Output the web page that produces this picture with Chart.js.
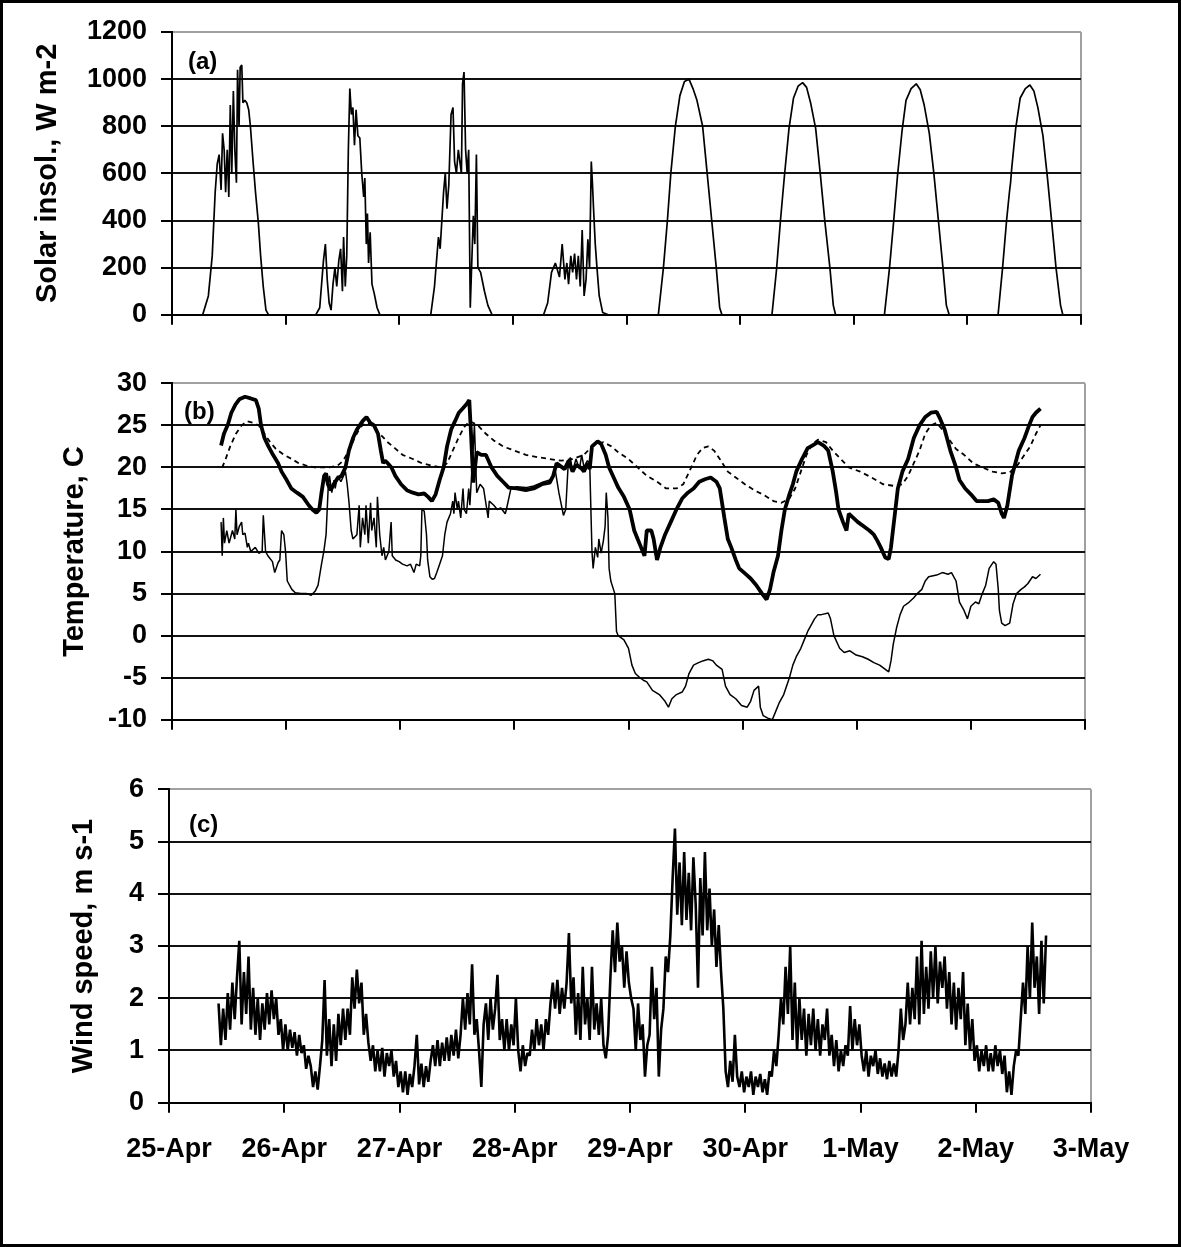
<!DOCTYPE html>
<html>
<head>
<meta charset="utf-8">
<script src="https://cdn.jsdelivr.net/npm/chart.js@4.4.1/dist/chart.umd.min.js"></script>
<style>
html,body{margin:0;padding:0;background:#fff;}
#page{position:relative;width:1181px;height:1247px;overflow:hidden;background:#fff;}
#frame{position:absolute;left:0;top:0;width:1181px;height:1247px;box-sizing:border-box;border:3px solid #000;pointer-events:none;z-index:5;}
canvas{position:absolute;left:0;}
</style>
</head>
<body>
<div id="page">
  <canvas id="c-solar" width="1181" height="345" style="top:0px"></canvas>
  <canvas id="c-temp" width="1181" height="405" style="top:345px"></canvas>
  <canvas id="c-wind" width="1181" height="497" style="top:750px"></canvas>
  <div id="frame"></div>
</div>
<script>
/* ===== DATA (x = days since 25-Apr 00:00) ===== */
const DAY_LABELS=['25-Apr','26-Apr','27-Apr','28-Apr','29-Apr','30-Apr','1-May','2-May','3-May'];

// (a) solar insolation, W m-2
const SOLAR=[
  [0.25,0],[0.27,0],[0.32,80],[0.354,250],[0.38,520],[0.398,640],[0.415,680],[0.432,530],[0.445,770],[0.459,700],
  [0.472,520],[0.486,700],[0.50,500],[0.513,890],[0.526,600],[0.54,950],[0.553,700],[0.567,560],[0.577,1040],[0.59,800],
  [0.60,1050],[0.614,1060],[0.624,900],[0.641,910],[0.658,900],[0.675,870],[0.69,800],[0.715,640],[0.735,520],[0.76,390],
  [0.78,250],[0.803,120],[0.827,20],[0.85,0],
  [1.265,0],[1.30,30],[1.333,230],[1.35,300],[1.366,150],[1.383,50],[1.40,20],[1.417,130],[1.434,200],[1.45,120],
  [1.468,230],[1.484,280],[1.50,100],[1.51,330],[1.525,120],[1.538,250],[1.552,700],[1.565,960],[1.579,850],[1.592,880],
  [1.606,720],[1.62,870],[1.636,760],[1.653,750],[1.67,600],[1.687,500],[1.697,580],[1.71,300],[1.72,430],[1.73,220],
  [1.744,350],[1.76,130],[1.78,90],[1.805,30],[1.83,0],
  [2.277,0],[2.31,120],[2.345,330],[2.36,280],[2.39,520],[2.405,600],[2.42,450],[2.436,550],[2.456,850],[2.473,880],
  [2.487,650],[2.503,600],[2.52,700],[2.547,600],[2.557,980],[2.57,1030],[2.584,700],[2.598,600],[2.611,700],[2.625,30],
  [2.638,220],[2.652,420],[2.665,300],[2.679,680],[2.692,200],[2.716,180],[2.75,100],[2.78,40],[2.817,0],
  [3.27,0],[3.306,50],[3.34,180],[3.374,220],[3.41,160],[3.434,300],[3.458,150],[3.475,220],[3.49,130],[3.51,250],
  [3.526,180],[3.543,260],[3.56,150],[3.576,250],[3.593,120],[3.61,360],[3.627,80],[3.644,150],[3.66,320],[3.675,200],
  [3.69,650],[3.70,560],[3.71,450],[3.725,300],[3.74,200],[3.76,80],[3.79,10],[3.84,0],
  [4.28,0],[4.325,200],[4.36,400],[4.39,600],[4.43,800],[4.47,930],[4.51,990],[4.55,1000],[4.585,960],[4.62,910],
  [4.67,800],[4.71,600],[4.75,400],[4.79,200],[4.82,30],[4.84,0],
  [5.28,0],[5.32,190],[5.355,400],[5.39,590],[5.43,790],[5.47,920],[5.51,970],[5.55,985],[5.585,965],[5.62,900],
  [5.665,790],[5.705,600],[5.745,400],[5.79,200],[5.82,40],[5.84,0],
  [6.27,0],[6.315,200],[6.35,390],[6.385,590],[6.425,780],[6.46,910],[6.505,960],[6.55,980],[6.585,955],[6.62,890],
  [6.665,770],[6.705,600],[6.745,400],[6.785,200],[6.815,40],[6.84,0],
  [7.27,0],[7.31,200],[7.345,400],[7.37,520],[7.38,560],[7.39,620],[7.425,790],[7.465,920],[7.51,960],[7.55,975],
  [7.585,950],[7.62,880],[7.665,760],[7.705,580],[7.745,380],[7.78,200],[7.82,40],[7.84,0],[7.9,0]
];

// (b) temperatures, C : thick solid line
const TEMP_THICK=[
  [0.43,22.6],[0.455,24],[0.49,25.1],[0.52,26.5],[0.557,27.5],[0.59,28.1],[0.64,28.4],[0.69,28.2],[0.735,28],[0.76,27],
  [0.78,25],[0.81,23.5],[0.845,22.5],[0.885,21.5],[0.93,20.5],[0.96,19.5],[1.005,18.5],[1.045,17.5],[1.095,17],[1.147,16.5],
  [1.198,15.5],[1.23,15],[1.265,14.6],[1.29,15],[1.31,17],[1.333,19],[1.35,19.3],[1.366,18],[1.39,17.3],[1.417,18],
  [1.45,18.7],[1.485,19],[1.52,20],[1.55,22],[1.586,23.5],[1.62,24.5],[1.67,25.5],[1.704,26],[1.737,25.3],[1.77,25],
  [1.805,24],[1.83,22],[1.85,20.5],[1.866,20.8],[1.89,20.5],[1.923,20],[1.957,19],[2.007,18],[2.058,17.3],[2.11,17],
  [2.16,16.8],[2.21,16.9],[2.244,16.5],[2.277,16],[2.31,16.8],[2.345,18.5],[2.38,20],[2.41,22.5],[2.446,24.5],[2.48,25.5],
  [2.513,26.5],[2.547,27],[2.58,27.5],[2.605,28],[2.62,24],[2.64,18.2],[2.67,21.8],[2.71,21.5],[2.75,21.5],[2.8,20],
  [2.85,19],[2.9,18.3],[2.95,17.6],[3.02,17.5],[3.1,17.3],[3.17,17.5],[3.24,18],[3.31,18.2],[3.34,19],[3.37,20.5],
  [3.44,19.8],[3.475,20.8],[3.51,19.5],[3.54,20.3],[3.58,20],[3.61,19.5],[3.64,20.5],[3.66,19.8],[3.68,22.5],[3.73,23.1],
  [3.76,22.8],[3.80,21.5],[3.83,20],[3.88,18.5],[3.91,17.6],[3.96,16.5],[4.01,15],[4.05,12.5],[4.08,11.5],[4.11,10.5],
  [4.14,9.5],[4.16,12.5],[4.20,12.5],[4.22,11.5],[4.25,9],[4.28,10.5],[4.32,12],[4.37,13.5],[4.42,15],[4.47,16.3],
  [4.52,17],[4.57,17.5],[4.62,18.3],[4.67,18.6],[4.72,18.8],[4.77,18.3],[4.80,17.5],[4.84,14],[4.87,11.5],[4.90,10.5],
  [4.94,9],[4.97,8],[5.02,7.4],[5.07,6.8],[5.12,6],[5.17,5],[5.21,4.3],[5.24,5.5],[5.27,7.5],[5.31,9.5],
  [5.34,12.5],[5.37,15],[5.41,16.8],[5.44,18],[5.47,19.5],[5.52,21],[5.57,22.3],[5.61,22.6],[5.66,23],[5.71,22.6],
  [5.75,22],[5.79,19.5],[5.82,17],[5.84,15],[5.88,13.5],[5.91,12.5],[5.93,14.5],[5.97,14],[6.01,13.5],[6.06,13],
  [6.11,12.5],[6.15,12],[6.18,11.3],[6.21,10.5],[6.25,9.3],[6.28,9.1],[6.30,10.5],[6.33,14],[6.36,17.5],[6.40,19.5],
  [6.45,21],[6.50,23.5],[6.55,25],[6.60,26],[6.65,26.5],[6.70,26.6],[6.73,25.8],[6.77,24.5],[6.82,22],[6.87,20],
  [6.90,18.5],[6.95,17.5],[7.00,16.8],[7.05,16],[7.10,16],[7.15,16],[7.20,16.2],[7.24,15.8],[7.27,14.5],[7.29,14],
  [7.32,15.5],[7.36,19],[7.39,20.5],[7.42,22],[7.47,23.5],[7.51,25],[7.54,26],[7.57,26.5],[7.61,27]
];

// (b) dashed line
const TEMP_DASHED=[
  [0.44,20],[0.47,21],[0.51,22.5],[0.56,24],[0.61,25],[0.66,25.5],[0.71,25.3],[0.76,25],[0.81,24],[0.86,23],
  [0.91,22.2],[0.98,21.5],[1.05,21],[1.11,20.5],[1.18,20.2],[1.25,20],[1.32,20],[1.38,20],[1.45,20.2],[1.50,20.8],
  [1.55,22],[1.60,23.5],[1.65,24.8],[1.70,25.3],[1.75,25],[1.82,24],[1.89,23],[1.96,22.2],[2.02,21.5],[2.11,21],
  [2.19,20.5],[2.28,20.2],[2.36,20],[2.41,20.5],[2.46,22],[2.51,23.5],[2.56,24.8],[2.61,25.5],[2.68,25],[2.75,24],
  [2.82,23.2],[2.90,22.5],[3.00,22],[3.10,21.5],[3.21,21.2],[3.31,21],[3.41,20.8],[3.51,21],[3.61,21.5],[3.68,22.5],
  [3.78,23],[3.85,22.5],[3.91,21.8],[4.00,21],[4.08,20],[4.16,19],[4.25,18.3],[4.33,17.5],[4.42,17.5],[4.48,18],
  [4.55,20],[4.60,21.5],[4.65,22.3],[4.70,22.5],[4.75,22],[4.80,21],[4.87,19.5],[4.94,18.8],[5.02,18],[5.10,17.3],
  [5.19,16.7],[5.27,16],[5.34,15.8],[5.41,16.3],[5.46,17.5],[5.51,19.5],[5.56,21.5],[5.61,22.8],[5.66,23.3],[5.73,23],
  [5.79,22],[5.86,21],[5.93,20],[6.03,19.5],[6.13,18.8],[6.23,18],[6.33,17.8],[6.40,18],[6.45,19],[6.50,20.5],
  [6.55,22],[6.60,24],[6.65,25],[6.70,25.3],[6.75,24.5],[6.80,23.5],[6.87,22.2],[6.94,21.5],[7.02,20.5],[7.10,20],
  [7.19,19.5],[7.27,19.3],[7.34,19.4],[7.41,20.3],[7.47,21.5],[7.52,22.5],[7.57,24],[7.61,25]
];

// (b) thin solid line
const TEMP_THIN=[
  [0.43,13.5],[0.44,9.5],[0.45,14],[0.46,11],[0.48,12.5],[0.50,11],[0.51,11.5],[0.53,12.5],[0.55,11.5],[0.56,15],
  [0.57,12],[0.59,13],[0.61,13.5],[0.62,12],[0.64,12.2],[0.66,10.5],[0.67,11],[0.69,10],[0.73,10.5],[0.76,9.8],
  [0.79,10],[0.80,14.3],[0.82,10],[0.84,9.5],[0.88,8.8],[0.90,7.5],[0.93,8.7],[0.945,9],[0.96,12.5],[0.98,12],
  [0.995,10],[1.01,6.5],[1.05,5.5],[1.08,5.1],[1.13,5],[1.18,5],[1.22,4.8],[1.255,5.3],[1.28,6],[1.31,8.5],
  [1.33,10],[1.35,12],[1.37,18],[1.38,19],[1.40,17],[1.42,18.5],[1.43,17.5],[1.45,19],[1.48,18.3],[1.52,19.5],
  [1.535,18],[1.55,16],[1.57,12.5],[1.585,11.5],[1.62,12],[1.64,15.5],[1.65,10.5],[1.67,14],[1.69,12],[1.70,15.5],
  [1.72,11],[1.74,15.8],[1.75,12.5],[1.77,14],[1.79,10.5],[1.80,16.5],[1.82,12],[1.84,9.5],[1.855,10.5],[1.87,9],
  [1.90,10],[1.92,13.5],[1.93,9.5],[1.96,9],[1.99,8.8],[2.02,8.5],[2.06,8.3],[2.09,8.5],[2.12,7.5],[2.14,8.5],
  [2.17,8.3],[2.18,9.5],[2.19,15],[2.21,14.8],[2.23,12],[2.24,9],[2.26,7],[2.28,6.7],[2.30,6.8],[2.32,7.5],
  [2.345,8.5],[2.37,9.5],[2.39,12],[2.41,13.5],[2.44,14.5],[2.46,16],[2.47,14.5],[2.48,17],[2.50,15],[2.51,16],
  [2.53,14],[2.55,17.5],[2.56,15],[2.58,14.5],[2.60,17.5],[2.61,15.5],[2.65,25],[2.67,17],[2.70,18],[2.73,17.5],
  [2.77,14],[2.78,16],[2.82,15.5],[2.85,15],[2.88,15.2],[2.92,14.5],[2.93,15],[2.97,17.5],[3.02,17.7],[3.10,17.6],
  [3.17,17.8],[3.24,18.2],[3.31,18.5],[3.36,19.5],[3.39,17],[3.43,14.3],[3.45,15],[3.47,20],[3.49,21.2],[3.51,19.5],
  [3.54,21],[3.57,19.8],[3.59,21.5],[3.61,20],[3.64,20.8],[3.66,20.5],[3.68,10],[3.69,8],[3.71,10.5],[3.73,9.3],
  [3.74,11.5],[3.76,9.8],[3.78,11.3],[3.795,13],[3.805,17],[3.82,14],[3.83,8],[3.845,6.5],[3.88,5],[3.895,0.5],
  [3.91,0],[3.96,-0.5],[4.00,-1.5],[4.03,-3.5],[4.06,-4.5],[4.10,-5],[4.13,-5.3],[4.16,-5.5],[4.21,-6.5],[4.27,-7],
  [4.32,-7.8],[4.35,-8.5],[4.38,-7.5],[4.42,-7],[4.47,-6.7],[4.50,-6],[4.53,-4.5],[4.57,-3.5],[4.60,-3.3],[4.65,-3],
  [4.70,-2.8],[4.74,-3],[4.77,-3.5],[4.82,-4],[4.85,-6],[4.89,-7],[4.94,-7.5],[4.99,-8.3],[5.04,-8.5],[5.07,-7.8],
  [5.10,-6.5],[5.14,-6],[5.155,-8.5],[5.18,-9.5],[5.22,-9.8],[5.26,-10],[5.29,-9],[5.32,-8],[5.36,-7],[5.41,-5],
  [5.44,-3.5],[5.47,-2.5],[5.51,-1.5],[5.54,-0.5],[5.57,0.5],[5.61,1.5],[5.63,2],[5.66,2.5],[5.69,2.5],[5.75,2.7],
  [5.77,2],[5.80,0],[5.85,-1.5],[5.89,-2],[5.94,-1.8],[5.995,-2.3],[6.05,-2.5],[6.10,-2.8],[6.15,-3.2],[6.20,-3.5],
  [6.23,-3.8],[6.28,-4.3],[6.30,-3],[6.32,-1],[6.35,1],[6.38,2.5],[6.41,3.5],[6.46,4],[6.50,4.5],[6.53,5],
  [6.57,5.5],[6.60,6.5],[6.63,7],[6.70,7.2],[6.75,7.5],[6.80,7.3],[6.83,7.5],[6.87,6.5],[6.90,4],[6.94,3],
  [6.97,2],[7.00,3.5],[7.04,4],[7.07,3.8],[7.10,5],[7.13,6],[7.16,8],[7.20,8.8],[7.22,8.5],[7.24,5.5],
  [7.25,3],[7.27,1.5],[7.30,1.2],[7.34,1.5],[7.37,3.8],[7.40,5],[7.44,5.5],[7.47,5.8],[7.50,6.2],[7.54,7],
  [7.57,6.8],[7.61,7.3]
];

// (c) wind speed, m s-1, one reading every 0.02 day from 0.43 (5 readings per group)
const WIND_START=0.43;
const WIND_STEP=0.02;
const WIND_SPEED=[
  1.9,1.1,1.8,1.2,2.1,  1.4,2.3,1.6,2.4,3.1,  1.5,2.5,1.7,2.8,1.4,  2.2,1.3,2.0,1.2,1.9,
  1.4,2.1,1.5,2.15,1.6, 2.0,1.3,1.6,1.0,1.5,  1.0,1.4,1.05,1.35,0.9, 1.3,0.95,1.1,0.65,0.9,
  0.7,0.3,0.6,0.25,0.7, 1.2,2.35,0.9,1.6,0.7, 1.5,0.8,1.7,1.1,1.8,  1.2,1.8,1.3,2.4,1.8,
  2.55,1.9,2.3,1.3,1.7, 1.15,0.8,1.1,0.6,1.0, 0.6,1.05,0.5,0.95,0.7, 1.0,0.5,0.8,0.3,0.6,
  0.2,0.6,0.15,0.55,0.3, 0.7,1.3,0.35,0.75,0.3, 0.7,0.4,0.8,1.1,0.7, 1.2,0.7,1.15,0.8,1.25,
  0.8,1.3,0.9,1.4,0.85, 1.3,2.0,1.4,2.1,1.5,  2.65,1.3,1.6,1.0,0.3, 1.5,1.9,1.2,2.0,1.4,
  1.8,2.45,1.2,1.6,1.0, 1.6,1.0,1.5,1.1,2.0,  1.0,0.6,1.1,0.7,0.95, 0.9,1.4,1.0,1.6,1.1,
  1.5,1.0,1.6,1.3,1.9,  2.3,1.8,2.35,1.7,2.2, 1.8,2.3,3.25,1.9,2.4, 1.3,2.1,1.2,2.6,1.5,
  2.0,1.2,2.6,1.4,1.9,  1.3,2.0,1.1,0.85,1.3, 2.4,3.3,2.5,3.45,2.7, 3.0,2.2,2.9,2.3,2.0,
  1.8,1.0,1.9,1.2,1.5,  0.5,1.1,1.3,2.6,1.6,  2.2,0.5,1.4,1.8,2.8,  2.5,3.2,4.3,5.25,3.6,
  4.6,3.4,4.8,3.5,4.4,  3.3,4.7,3.8,2.2,4.3,  3.2,4.8,3.3,4.1,3.0,  3.7,2.6,3.4,2.5,1.8,
  0.6,0.3,0.8,0.4,1.3,  0.5,0.3,0.6,0.2,0.5,  0.3,0.6,0.15,0.5,0.3, 0.55,0.2,0.45,0.15,0.6,
  0.5,1.0,0.7,1.3,2.0,  1.5,2.6,1.7,3.0,1.2,  2.3,1.0,2.0,1.2,1.8,  0.9,1.7,1.1,1.8,1.0,
  1.6,0.9,1.5,1.2,1.8,  0.9,1.3,0.7,1.2,0.6,  1.0,0.7,1.1,0.9,1.85, 1.0,1.6,1.1,1.5,0.9,
  0.6,1.0,0.5,0.9,0.7,  1.0,0.55,0.85,0.5,0.75, 0.45,0.8,0.5,0.75,0.5, 1.0,1.8,1.2,1.5,2.3,
  1.5,2.2,1.6,2.8,1.5,  3.1,1.7,2.6,1.8,2.9,  2.0,3.0,1.9,2.7,2.2,  2.8,1.8,2.5,1.5,2.3,
  1.4,2.2,1.6,2.5,1.1,  1.9,1.0,1.6,0.8,1.1,  0.6,1.0,0.7,1.1,0.6,  0.95,0.6,1.1,0.7,1.0,
  0.55,0.9,0.2,0.6,0.15, 0.7,1.0,0.9,1.6,2.3, 1.7,3.0,2.0,3.45,2.2, 2.8,1.7,3.1,1.9,3.2
];

/* ===== CHART SETUP ===== */
Chart.defaults.font.family='"Liberation Sans", Arial, sans-serif';
Chart.defaults.color='#000';

const toXY=arr=>arr.map(p=>({x:p[0],y:p[1]}));
const windXY=WIND_SPEED.map((v,i)=>({x:WIND_START+i*WIND_STEP,y:v}));

// panel letter (a), (b), (c) in the top-left corner of the plot
const panelLabel={
  id:'panelLabel',
  afterDatasetsDraw(chart,args,opts){
    const {ctx,chartArea}=chart;
    ctx.save();
    ctx.font='bold 24px "Liberation Sans", Arial, sans-serif';
    ctx.fillStyle='#000';
    ctx.textBaseline='middle';
    ctx.fillText(opts.text,chartArea.left+opts.dx,chartArea.top+opts.dy);
    ctx.restore();
  }
};

function makePanel(id,cfg){
  return new Chart(document.getElementById(id),{
    type:'line',
    data:{datasets:cfg.datasets},
    options:{
      responsive:false,animation:false,devicePixelRatio:1,
      layout:{padding:{top:cfg.top,right:cfg.right,left:0,bottom:0}},
      elements:{point:{radius:0},line:{tension:0,borderJoinStyle:'bevel'}},
      plugins:{legend:{display:false},tooltip:{enabled:false},panelLabel:cfg.label},
      scales:{
        x:{
          type:'linear',min:0,max:8,
          ticks:{stepSize:1,display:cfg.showDates,autoSkip:false,maxRotation:0,padding:21,color:'#000',
                 font:{size:27,weight:'bold'},callback:v=>DAY_LABELS[v]},
          grid:{color:c=>c.tick&&c.tick.value===8?'#a0a0a0':'rgba(0,0,0,0)',lineWidth:2,tickColor:'#000',tickLength:10},
          border:{color:'#000',width:2},
          afterFit:s=>{s.height=cfg.xh;}
        },
        y:{
          min:cfg.ymin,max:cfg.ymax,
          ticks:{stepSize:cfg.step,padding:14,color:'#000',font:{size:27,weight:'bold'},callback:v=>String(v)},
          grid:{color:c=>c.tick&&c.tick.value===cfg.ymax?'#a0a0a0':'#111',lineWidth:2,tickColor:'#000',tickLength:11},
          border:{color:'#000',width:2},
          title:{display:true,text:cfg.title,color:'#000',font:{size:29,weight:'bold'},padding:{top:cfg.titlePad,bottom:0}},
          afterFit:s=>{s.width=cfg.left;}
        }
      }
    },
    plugins:[panelLabel]
  });
}

makePanel('c-solar',{
  top:32,right:100,left:172,xh:25,ymin:0,ymax:1200,step:200,showDates:false,
  title:'Solar insol., W m-2',titlePad:31,
  label:{text:'(a)',dx:16,dy:30},
  datasets:[{data:toXY(SOLAR),borderColor:'#000',borderWidth:1.7}]
});

makePanel('c-temp',{
  top:38.3,right:96,left:172,xh:16.7,ymin:-10,ymax:30,step:5,showDates:false,
  title:'Temperature, C',titlePad:58,
  label:{text:'(b)',dx:12,dy:29},
  datasets:[
    {data:toXY(TEMP_THIN),borderColor:'#000',borderWidth:1.5},
    {data:toXY(TEMP_DASHED),borderColor:'#000',borderWidth:1.8,borderDash:[5,4]},
    {data:toXY(TEMP_THICK),borderColor:'#000',borderWidth:3.8}
  ]
});

makePanel('c-wind',{
  top:39.3,right:90,left:169,xh:144.3,ymin:0,ymax:6,step:1,showDates:true,
  title:'Wind speed, m s-1',titlePad:67,
  label:{text:'(c)',dx:20,dy:36},
  datasets:[{data:windXY,borderColor:'#000',borderWidth:2.6}]
});
</script>
</body>
</html>
